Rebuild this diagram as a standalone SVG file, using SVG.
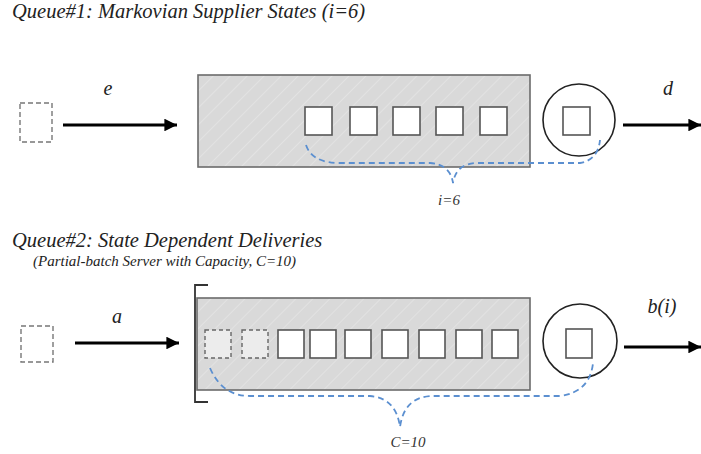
<svg xmlns="http://www.w3.org/2000/svg" width="701" height="454" viewBox="0 0 701 454">
  <style>
    .title { font-family: "Liberation Serif", "Times New Roman", serif; font-style: italic; font-size: 20.5px; fill: #222; }
    .sub { font-family: "Liberation Serif", "Times New Roman", serif; font-style: italic; font-size: 15px; fill: #222; }
    .lbl { font-family: "Liberation Serif", "Times New Roman", serif; font-style: italic; font-size: 20px; fill: #222; }
    .small { font-family: "Liberation Serif", "Times New Roman", serif; font-style: italic; font-size: 15px; fill: #333; }
    .buffer { fill: url(#hatch); stroke: #6b6b6b; stroke-width: 1.6; }
    .slot { fill: #ffffff; stroke: #555; stroke-width: 1.6; }
    .empty { fill: #ececec; stroke: #666; stroke-width: 1.4; stroke-dasharray: 4 3; }
    .arrival { fill: none; stroke: #777; stroke-width: 1.4; stroke-dasharray: 5 3; }
    .server { fill: none; stroke: #222; stroke-width: 1.6; }
    .flow { fill: none; stroke: #000; stroke-width: 3; marker-end: url(#head); }
    .brace { fill: none; stroke: #5b8fd0; stroke-width: 1.8; stroke-dasharray: 6 4; }
    .bracket { fill: none; stroke: #333; stroke-width: 1.8; }
  </style>
  <defs>
    <pattern id="hatch" patternUnits="userSpaceOnUse" width="12" height="12" patternTransform="rotate(45)">
      <rect width="12" height="12" fill="#d9d9d9"/>
      <line x1="0" y1="0" x2="0" y2="12" stroke="#ececec" stroke-width="1"/>
    </pattern>
    <marker id="head" viewBox="0 0 10 10" refX="10" refY="5" markerWidth="5.5" markerHeight="4.2" orient="auto" markerUnits="strokeWidth">
      <path d="M0,0 L10,5 L0,10 z" fill="#000"/>
    </marker>
  </defs>

  <!-- Queue 1 -->
  <text class="title" x="12" y="18">Queue#1: Markovian Supplier States (i=6)</text>

  <g id="q1-arrival">
    <rect class="arrival" x="20" y="103" width="32" height="39"/>
  </g>
  <g id="q1-buffer">
    <rect class="buffer" x="198" y="75" width="332" height="92"/>
    <rect class="slot" x="305" y="107" width="27" height="28"/>
    <rect class="slot" x="350" y="107" width="27" height="28"/>
    <rect class="slot" x="393" y="107" width="27" height="28"/>
    <rect class="slot" x="436" y="107" width="27" height="28"/>
    <rect class="slot" x="480" y="107" width="27" height="28"/>
  </g>
  <g id="q1-server">
    <circle class="server" cx="579" cy="120" r="36"/>
    <rect class="slot" x="563" y="107" width="27" height="28"/>
  </g>

  <!-- Queue 2 -->
  <text class="title" x="12" y="247">Queue#2: State Dependent Deliveries</text>
  <text class="sub" x="33" y="266">(Partial-batch Server with Capacity, C=10)</text>

  <g id="q2-arrival">
    <rect class="arrival" x="21" y="326" width="32" height="36"/>
  </g>
  <g id="q2-buffer">
    <rect class="buffer" x="197" y="298" width="333" height="92"/>
    <path class="bracket" d="M208,285 H195 V402 H208"/>
    <rect class="empty" x="205" y="330" width="26" height="28"/>
    <rect class="empty" x="242" y="330" width="26" height="28"/>
    <rect class="slot" x="278" y="330" width="26" height="28"/>
    <rect class="slot" x="310" y="330" width="26" height="28"/>
    <rect class="slot" x="345" y="330" width="26" height="28"/>
    <rect class="slot" x="382" y="330" width="26" height="28"/>
    <rect class="slot" x="419" y="330" width="26" height="28"/>
    <rect class="slot" x="456" y="330" width="26" height="28"/>
    <rect class="slot" x="492" y="330" width="26" height="28"/>
  </g>
  <g id="q2-server">
    <circle class="server" cx="580" cy="341" r="37"/>
    <rect class="slot" x="566" y="329" width="26" height="29"/>
  </g>

  <!-- connectors -->
  <g id="connectors">
    <line class="flow" x1="63" y1="125" x2="177" y2="125"/>
    <line class="flow" x1="623" y1="125" x2="701" y2="125"/>
    <line class="flow" x1="75" y1="343" x2="179" y2="343"/>
    <line class="flow" x1="624" y1="347" x2="701" y2="347"/>
    <path class="brace" d="M306,145 Q312,163 340,163 L430,163 Q450,164 453,183 Q456,164 476,163 L580,163 Q598,160 600,140"/>
    <path class="brace" d="M210,368 Q222,396 250,396 L370,396 Q396,398 400,427 Q404,398 430,396 L560,396 Q590,392 593,363"/>
  </g>

  <!-- labels -->
  <text class="lbl" x="108" y="95" text-anchor="middle">e</text>
  <text class="lbl" x="668" y="95" text-anchor="middle">d</text>
  <text class="lbl" x="117" y="323" text-anchor="middle">a</text>
  <text class="lbl" x="662" y="313" text-anchor="middle">b(i)</text>
  <text class="small" x="449" y="205" text-anchor="middle">i=6</text>
  <text class="small" x="408" y="447" text-anchor="middle">C=10</text>
</svg>
